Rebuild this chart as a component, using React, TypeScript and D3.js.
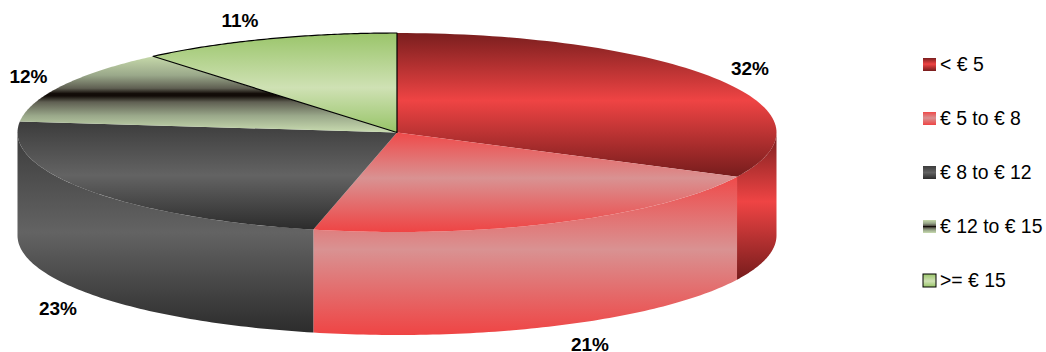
import React from "react";
import * as d3 from "d3";

const categories = ["< € 5", "€ 5 to € 8", "€ 8 to € 12", "€ 12 to € 15", ">= € 15"];
const shares = [32, 21, 23, 12, 11];
const shareLabels = ["32%", "21%", "23%", "12%", "11%"];
// Colour ramps for each slice, written as [offset, colour] from top to bottom.
const gradientStops: [number, string][][] = [
  [[0, "#7a1e1e"], [0.47, "#ef4444"], [1, "#761c1c"]],
  [[0, "#ef4a4a"], [0.46, "#d99292"], [1, "#ef4444"]],
  [[0, "#3c3c3c"], [0.5, "#636363"], [1, "#2c2c2c"]],
  [
    [0, "#c6d9aa"],
    [0.25, "#9aa88a"],
    [0.42, "#5f5f52"],
    [0.49, "#120c08"],
    [0.52, "#120c08"],
    [0.6, "#5f5f52"],
    [0.78, "#9aa88a"],
    [1, "#c9dcb0"],
  ],
  [[0, "#9ac56a"], [0.55, "#cfe1b4"], [1, "#97c467"]],
];
const labelPositions = [
  [750, 68.5],
  [590, 344.5],
  [58, 308.5],
  [28.5, 76.5],
  [240, 20.5],
];

const width = 1046;
const height = 352;
const cx = 397;
const cy = 132.5;
const rx = 379.5;
const ry = 99.5;
const depth = 103;

const legendY = d3.scalePoint<number>().domain(d3.range(5)).range([64, 280]);

const slices = d3.pie<number>().sort(null).value((d) => d)(shares);

const ex = (a: number) => cx + rx * Math.sin(a);
const ey = (a: number) => cy - ry * Math.cos(a);

// Elliptical arc between two angles, measured clockwise from twelve o'clock.
function rimArc(a0: number, a1: number, dy: number, moveFirst: boolean) {
  const n = 80;
  const pts = d3.range(n + 1).map((i) => {
    const a = a0 + ((a1 - a0) * i) / n;
    return [ex(a), ey(a) + dy];
  });
  const s = pts.map((p) => `${p[0].toFixed(2)},${p[1].toFixed(2)}`).join("L");
  return (moveFirst ? "M" : "L") + s;
}

function topPath(a0: number, a1: number) {
  return `M${cx},${cy}L` + rimArc(a0, a1, 0, true).slice(1) + "Z";
}

function sidePath(a0: number, a1: number) {
  const lo = Math.max(a0, Math.PI / 2);
  const hi = Math.min(a1, (3 * Math.PI) / 2);
  if (hi <= lo) return null;
  return rimArc(lo, hi, 0, true) + rimArc(hi, lo, depth, false) + "Z";
}

function Gradient({ id, i }: { id: string; i: number }) {
  return (
    <linearGradient id={id} x1="0" y1="0" x2="0" y2="1">
      {gradientStops[i].map(([offset, color]) => (
        <stop key={offset} offset={offset} stopColor={color} />
      ))}
    </linearGradient>
  );
}

export default function App() {
  const font = "'Liberation Sans', Arial, sans-serif";
  return (
    <svg
      width={width}
      height={height}
      viewBox={`0 0 ${width} ${height}`}
      style={{ position: "absolute", left: 0, top: 0, background: "#fff" }}
    >
      <defs>
        {shares.map((_, i) => (
          <Gradient key={i} id={`fill-${i}`} i={i} />
        ))}
      </defs>

      {/* Wall of the cylinder: only the front half can be seen */}
      {slices.map((s, i) => {
        const d = sidePath(s.startAngle, s.endAngle);
        return d ? <path key={i} d={d} fill={`url(#fill-${i})`} /> : null;
      })}

      {/* Top faces */}
      {slices.map((s, i) => (
        <path
          key={i}
          d={topPath(s.startAngle, s.endAngle)}
          fill={`url(#fill-${i})`}
          stroke={i === 4 ? "#000" : "none"}
          strokeWidth={i === 4 ? 1.2 : 0}
          strokeLinejoin="round"
        />
      ))}

      {/* Percentage labels */}
      {shareLabels.map((t, i) => (
        <text
          key={t}
          x={labelPositions[i][0]}
          y={labelPositions[i][1]}
          dy="0.35em"
          textAnchor="middle"
          fontFamily={font}
          fontWeight="bold"
          fontSize={19}
          fill="#000"
        >
          {t}
        </text>
      ))}

      {/* Legend */}
      {categories.map((c, i) => {
        const y = legendY(i) as number;
        return (
          <g key={c}>
            <rect
              x={923}
              y={y - 6}
              width={13}
              height={13}
              fill={`url(#fill-${i})`}
              stroke={i === 4 ? "#000" : "none"}
              strokeWidth={i === 4 ? 1 : 0}
            />
            <text x={940} y={y} dy="0.35em" fontFamily={font} fontSize={19.4} fill="#000">
              {c}
            </text>
          </g>
        );
      })}
    </svg>
  );
}
